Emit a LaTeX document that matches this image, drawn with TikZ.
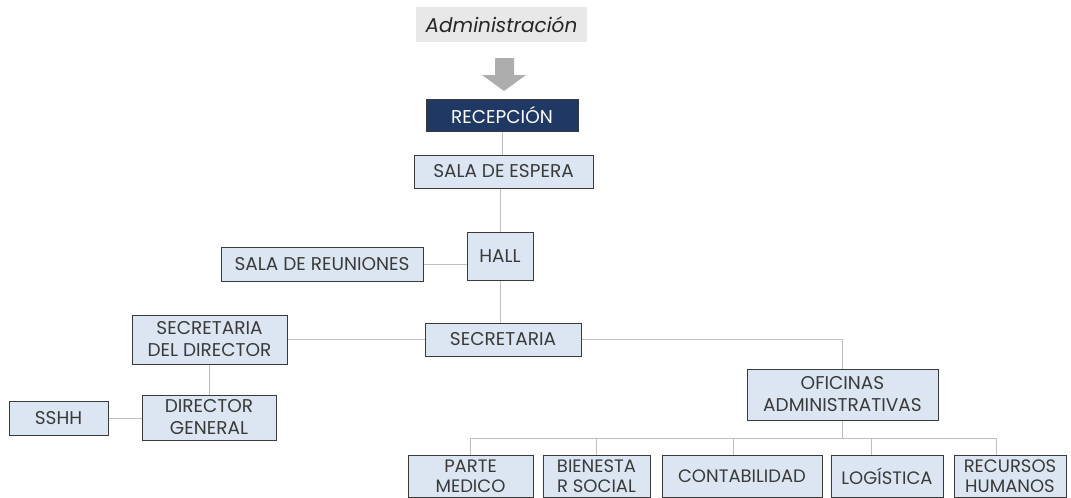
\documentclass[tikz,border=0pt]{standalone}
\usepackage{fontspec}
\setmainfont{Poppins}

\definecolor{boxfill}{HTML}{DCE6F2}
\definecolor{boxline}{HTML}{3A3A3A}
\definecolor{txt}{HTML}{3A3A3A}
\definecolor{navy}{HTML}{1F3864}
\definecolor{wire}{HTML}{BFBFBF}

\begin{document}
\begin{tikzpicture}[x=1pt, y=-1pt]
\tikzstyle{area}=[draw=boxline, line width=1pt, fill=boxfill, text=txt,
  font=\fontsize{18.5}{22}\selectfont, align=center, inner sep=0pt];
\tikzstyle{low}=[area, minimum height=42pt, font=\fontsize{18}{20}\selectfont];
\tikzstyle{link}=[draw=wire, line width=1pt];
\clip (0,0) rectangle (1071,498);
\fill[white] (0,0) rectangle (1071,498);

\node[fill=black!9, text=black!85, minimum width=171pt, minimum height=35pt,
  font=\fontsize{20}{22}\selectfont\itshape] (adm) at (501.5, 24.5) {Administración};
% flecha
\fill[black!32] (495,58) -- (514,58) -- (514,75) -- (526,75) -- (504,91)
  -- (482,75) -- (495,75) -- cycle;
\node[area, fill=navy, text=white, minimum width=152pt, minimum height=32pt] (rec) at (502, 115) {RECEPCIÓN};
\node[area, minimum width=179pt, minimum height=33pt] (espera) at (503.5, 171.5) {SALA DE ESPERA};
\node[area, minimum width=66pt, minimum height=48pt] (hall) at (500, 256) {HALL};
\node[area, minimum width=202pt, minimum height=34pt] (reun) at (322, 264) {SALA DE REUNIONES};
\node[area, minimum width=156pt, minimum height=33pt] (secr) at (503, 339.5) {SECRETARIA};
\node[area, minimum width=155pt, minimum height=49pt] (secdir) at (209.5, 339.5) {SECRETARIA\\DEL DIRECTOR};
\node[area, minimum width=134pt, minimum height=45pt] (dirgen) at (209, 417.5) {DIRECTOR\\GENERAL};
\node[area, minimum width=99pt, minimum height=34pt] (sshh) at (58.5, 418) {SSHH};
\node[area, minimum width=191pt, minimum height=51pt] (ofic) at (842.5, 394.5) {OFICINAS\\ADMINISTRATIVAS};
\node[low, minimum width=125pt] (parte) at (470.5, 476) {PARTE\\MEDICO};
\node[low, minimum width=107pt] (bien) at (596.5, 476) {BIENESTA\\R SOCIAL};
\node[low, minimum width=160pt] (cont) at (742, 476) {CONTABILIDAD};
\node[low, minimum width=112pt] (logi) at (887, 476) {LOGÍSTICA\vphantom{Ó}};
\node[low, minimum width=112pt] (recu) at (1010, 476) {RECURSOS\\HUMANOS};
\coordinate (bus) at (842.5, 438);

\draw[link] (rec.south) -- (rec.south |- espera.north)
(hall.north |- espera.south) -- (hall.north)
(reun.east) -- (reun.east -| hall.west)
(hall.south) -- (hall.south |- secr.north)
(secdir.east) -- (secdir.east -| secr.west)
(secr.east) -| (ofic.north)
(secdir.south) -- (secdir.south |- dirgen.north)
(sshh.east) -- (sshh.east -| dirgen.west)
(ofic.south) -- (bus)
(bus) -| (parte.north)
(bus) -| (bien.north)
(bus) -| ([xshift=-9pt]cont.north)
(bus) -| ([xshift=-16pt]logi.north)
(bus) -| ([xshift=-14pt]recu.north);
\end{tikzpicture}
\end{document}
